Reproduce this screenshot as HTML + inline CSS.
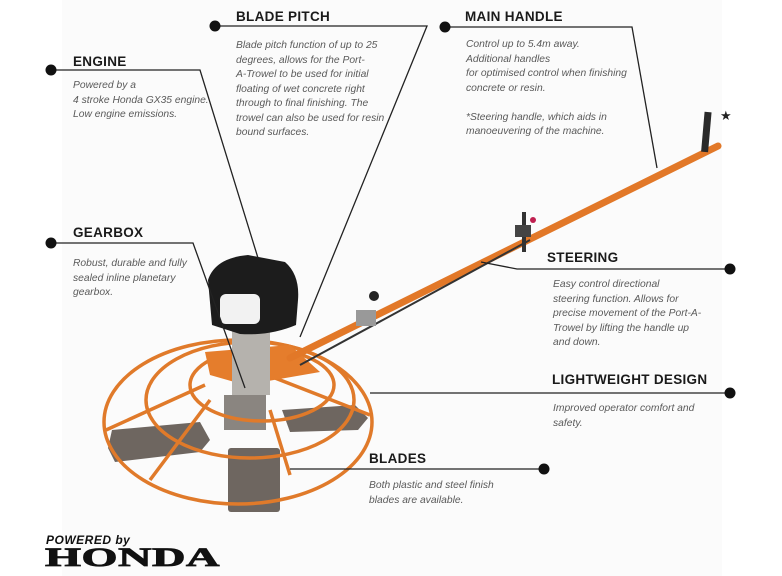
<!DOCTYPE html>
<html><head><meta charset="utf-8"><style>
body{margin:0;width:782px;height:576px;background:#fff;position:relative;overflow:hidden;font-family:"Liberation Sans",sans-serif}
.bg{position:absolute;left:62px;top:0;width:660px;height:576px;background:#fbfbfb}
.t{position:absolute;font-weight:bold;font-size:13.5px;color:#1a1a1a;letter-spacing:0.3px;white-space:nowrap}
.d{position:absolute;font-style:italic;font-size:10.3px;color:#5a5a5a;line-height:14.5px;white-space:nowrap}
</style></head><body>
<div class="bg"></div>
<svg width="782" height="576" style="position:absolute;left:0;top:0">
<!-- blades -->
<g fill="#6e6660">
<polygon points="112,430 200,422 210,440 200,452 115,462 108,448"/>
<polygon points="282,410 355,405 368,418 358,430 290,432"/>
<rect x="228" y="448" width="52" height="64" rx="3"/>
</g>
<rect x="224" y="395" width="42" height="35" fill="#8a8580"/>
<!-- ring cage -->
<g fill="none" stroke="#e07a2a" stroke-width="3.5">
<ellipse cx="238" cy="422" rx="134" ry="82"/>
<ellipse cx="250" cy="400" rx="104" ry="58"/>
<ellipse cx="262" cy="385" rx="72" ry="36"/>
<line x1="106" y1="430" x2="205" y2="385"/>
<line x1="275" y1="378" x2="370" y2="415"/>
<line x1="270" y1="410" x2="290" y2="475"/>
<line x1="150" y1="480" x2="210" y2="400"/>
</g>
<polygon points="205,352 290,345 320,372 245,385 210,375" fill="#e57d2c"/>
<!-- engine -->
<rect x="232" y="325" width="38" height="70" fill="#b5b2ad"/>
<path d="M208,280 Q215,258 248,255 L285,262 Q300,275 298,300 L296,325 Q270,336 240,334 L212,325 Z" fill="#1c1c1c"/>
<rect x="220" y="294" width="40" height="30" rx="6" fill="#f2f2f2"/>
<!-- handle pole -->
<line x1="290" y1="358" x2="718" y2="146" stroke="#e27828" stroke-width="7" stroke-linecap="round"/>
<line x1="300" y1="365" x2="530" y2="240" stroke="#333" stroke-width="2"/>
<rect x="703" y="112" width="7" height="40" fill="#2a2a2a" transform="rotate(5 706 130)"/>
<rect x="522" y="212" width="4" height="40" fill="#333"/>
<rect x="515" y="225" width="16" height="12" fill="#444"/>
<circle cx="533" cy="220" r="3" fill="#c02050"/>
<circle cx="374" cy="296" r="5" fill="#222"/>
<rect x="356" y="310" width="20" height="16" fill="#999"/>
<text x="720" y="120" font-size="13" fill="#222">★</text>
<!-- leader lines -->
<g stroke="#222" stroke-width="1.3" fill="none">
<polyline points="51,70 200,70 258,258"/>
<polyline points="215,26 427,26 300,337"/>
<polyline points="445,27 632,27 657,168"/>
<polyline points="51,243 193,243 245,388"/>
<polyline points="730,269 517,269 481,262"/>
<polyline points="730,393 370,393"/>
<polyline points="544,469 290,469"/>
</g>
<g fill="#111">
<circle cx="51" cy="70" r="5.5"/><circle cx="215" cy="26" r="5.5"/><circle cx="445" cy="27" r="5.5"/>
<circle cx="51" cy="243" r="5.5"/><circle cx="730" cy="269" r="5.5"/><circle cx="730" cy="393" r="5.5"/><circle cx="544" cy="469" r="5.5"/>
</g>
</svg>
<div class="t" style="left:73px;top:54px">ENGINE</div>
<div class="d" style="left:73px;top:79px">Powered by a<br>4 stroke Honda GX35 engine.<br>Low engine emissions.</div>
<div class="t" style="left:236px;top:9px">BLADE PITCH</div>
<div class="d" style="left:236px;top:39px">Blade pitch function of up to 25<br>degrees, allows for the Port-<br>A-Trowel to be used for initial<br>floating of wet concrete right<br>through to final finishing. The<br>trowel can also be used for resin<br>bound surfaces.</div>
<div class="t" style="left:465px;top:9px">MAIN HANDLE</div>
<div class="d" style="left:466px;top:38px">Control up to 5.4m away.<br>Additional handles<br>for optimised control when finishing<br>concrete or resin.<br><br>*Steering handle, which aids in<br>manoeuvering of the machine.</div>
<div class="t" style="left:73px;top:225px">GEARBOX</div>
<div class="d" style="left:73px;top:257px">Robust, durable and fully<br>sealed inline planetary<br>gearbox.</div>
<div class="t" style="left:547px;top:250px">STEERING</div>
<div class="d" style="left:553px;top:278px">Easy control directional<br>steering function. Allows for<br>precise movement of the Port-A-<br>Trowel by lifting the handle up<br>and down.</div>
<div class="t" style="left:552px;top:372px">LIGHTWEIGHT DESIGN</div>
<div class="d" style="left:553px;top:402px">Improved operator comfort  and<br>safety.</div>
<div class="t" style="left:369px;top:451px">BLADES</div>
<div class="d" style="left:369px;top:479px">Both plastic and steel finish<br>blades are available.</div>
<div style="position:absolute;left:46px;top:533px;font-weight:900;font-style:italic;font-size:12px;color:#111;letter-spacing:0.5px">POWERED by</div>
<div style="position:absolute;left:45px;top:543px;font-family:'Liberation Serif',serif;font-weight:900;font-size:26px;color:#111;transform:scaleX(1.78);transform-origin:left top;letter-spacing:0.3px;-webkit-text-stroke:0.8px #111">HONDA</div>
</body></html>
